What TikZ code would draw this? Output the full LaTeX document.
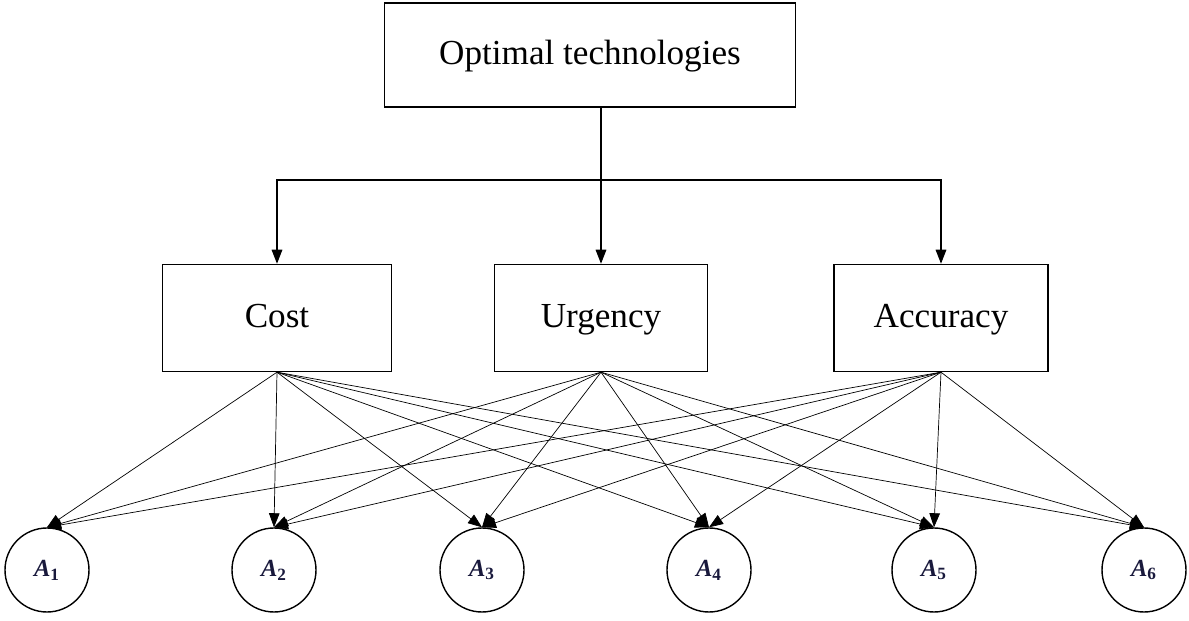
\documentclass[tikz,border=0pt]{standalone}
\usepackage{fontspec}
\setmainfont{Liberation Serif}
\usetikzlibrary{arrows.meta}
\definecolor{labelink}{RGB}{25,25,60}
\begin{document}
\begin{tikzpicture}[
	>={Triangle[length=8pt,width=6pt]},
	block/.style={rectangle, draw, thick, text height=14pt, text depth=3pt, font=\fontsize{20}{24}\selectfont},
	alt/.style={circle, draw, thick, minimum size=1.68cm, inner sep=0pt, text=labelink, font=\fontsize{14}{16}\selectfont},
	line/.style={->, thin}
	]
	\useasboundingbox (0,0) rectangle (23.78,-12.42);
	% Goal
	\node[block, minimum width=8.22cm, minimum height=2.08cm] (G) at (11.8,-1.1) {Optimal technologies};
	
	% Criteria
	\node[block, minimum width=4.58cm, minimum height=2.14cm] (C1) at (5.54,-6.36) {Cost};
	\node[block, minimum width=4.26cm, minimum height=2.14cm] (C2) at (12.02,-6.36) {Urgency};
	\node[block, minimum width=4.28cm, minimum height=2.14cm] (C3) at (18.82,-6.36) {Accuracy};
	
	% Alternatives
	\node[alt] (A1) at (0.94,-11.4) {\textbf{\textit{A}}\textsubscript{\textbf{1}}};
	\node[alt] (A2) at (5.48,-11.4) {\textbf{\textit{A}}\textsubscript{\textbf{2}}};
	\node[alt] (A3) at (9.64,-11.4) {\textbf{\textit{A}}\textsubscript{\textbf{3}}};
	\node[alt] (A4) at (14.18,-11.4) {\textbf{\textit{A}}\textsubscript{\textbf{4}}};
	\node[alt] (A5) at (18.68,-11.4) {\textbf{\textit{A}}\textsubscript{\textbf{5}}};
	\node[alt] (A6) at (22.88,-11.4) {\textbf{\textit{A}}\textsubscript{\textbf{6}}};
	
	% Goal to criteria
	\coordinate (bus) at (12.02,-3.6);
	\draw[thick] (G.south -| C2.north) -- (bus);
	\draw[line, thick] (bus) -- (C2.north);
	\draw[line, thick] (bus) -| (C1.north);
	\draw[line, thick] (bus) -| (C3.north);
	
	% Criteria to alternatives
	\foreach \i in {1,2,3} {
		\foreach \j in {1,...,6} {
			\draw[line] (C\i.south) -- (A\j.north);
		}
	}
\end{tikzpicture}
\end{document}
